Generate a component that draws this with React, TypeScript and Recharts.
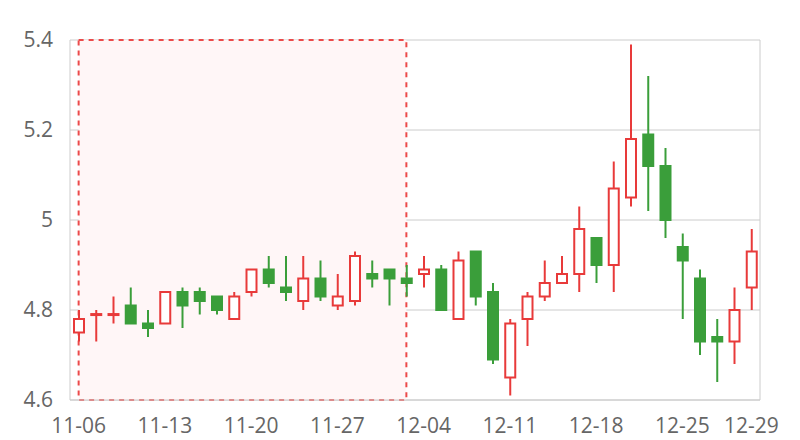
import React from 'react';
import { ComposedChart, Bar, XAxis, YAxis, CartesianGrid, ReferenceArea } from 'recharts';

const dates = [
  '11-06', '11-07', '11-08', '11-09', '11-10',
  '11-13', '11-14', '11-15', '11-16', '11-17',
  '11-20', '11-21', '11-22', '11-23', '11-24',
  '11-27', '11-28', '11-29', '11-30', '12-01',
  '12-04', '12-05', '12-06', '12-07', '12-08',
  '12-11', '12-12', '12-13', '12-14', '12-15',
  '12-18', '12-19', '12-20', '12-21', '12-22',
  '12-25', '12-26', '12-27', '12-28', '12-29',
];

const opens = [
  4.75, 4.789, 4.789, 4.81, 4.77,
  4.77, 4.84, 4.84, 4.83, 4.78,
  4.84, 4.89, 4.85, 4.82, 4.87,
  4.81, 4.82, 4.88, 4.89, 4.87,
  4.88, 4.89, 4.78, 4.93, 4.84,
  4.65, 4.78, 4.83, 4.86, 4.88,
  4.96, 4.90, 5.05, 5.19, 5.12,
  4.94, 4.87, 4.74, 4.73, 4.85,
];

const closes = [
  4.78, 4.791, 4.791, 4.77, 4.76,
  4.84, 4.81, 4.82, 4.80, 4.83,
  4.89, 4.86, 4.84, 4.87, 4.83,
  4.83, 4.92, 4.87, 4.87, 4.86,
  4.89, 4.80, 4.91, 4.83, 4.69,
  4.77, 4.83, 4.86, 4.88, 4.98,
  4.90, 5.07, 5.18, 5.12, 5.00,
  4.91, 4.73, 4.73, 4.80, 4.93,
];

const highs = [
  4.80, 4.80, 4.83, 4.85, 4.80,
  4.84, 4.85, 4.85, 4.83, 4.84,
  4.89, 4.92, 4.92, 4.92, 4.91,
  4.88, 4.93, 4.91, 4.89, 4.90,
  4.92, 4.90, 4.93, 4.93, 4.86,
  4.78, 4.84, 4.91, 4.92, 5.03,
  4.96, 5.13, 5.39, 5.32, 5.16,
  4.97, 4.89, 4.78, 4.85, 4.98,
];

const lows = [
  4.73, 4.73, 4.77, 4.77, 4.74,
  4.77, 4.76, 4.79, 4.79, 4.78,
  4.83, 4.85, 4.82, 4.80, 4.82,
  4.80, 4.81, 4.85, 4.81, 4.83,
  4.85, 4.80, 4.78, 4.81, 4.68,
  4.61, 4.72, 4.82, 4.86, 4.84,
  4.86, 4.84, 5.03, 5.02, 4.96,
  4.78, 4.70, 4.64, 4.68, 4.80,
];

const xTickLabels = ['11-06', '11-13', '11-20', '11-27', '12-04', '12-11', '12-18', '12-25', '12-29'];
const yTicks = [4.6, 4.8, 5, 5.2, 5.4];
const yDomain = [4.6, 5.4];
const areaStart = '11-06';
const areaEnd = '12-01';

const RED = '#e83a3a';
const GREEN = '#3a9e3a';
const FONT = '"Open Sans", "Noto Sans", sans-serif';

const data = dates.map((d, i) => ({
  idx: i,
  date: d,
  open: opens[i],
  close: closes[i],
  high: highs[i],
  low: lows[i],
  range: [lows[i], highs[i]],
}));

const xTicks = xTickLabels.map((t) => dates.indexOf(t));

const Candle = (props: any) => {
  const { x, y, width, height, payload } = props;
  if (!payload) return null;
  const { open, close, high, low } = payload;
  const up = close >= open;
  const color = up ? RED : GREEN;
  const cx = x + width / 2;
  const ppu = high - low > 0 ? height / (high - low) : 0;
  const yOf = (v: number) => y + (high - v) * ppu;
  const top = yOf(Math.max(open, close));
  const bottom = yOf(Math.min(open, close));
  const bh = Math.max(bottom - top, 0);
  const bw = 12;
  return (
    <g>
      {top - y > 0.5 && <line x1={cx} x2={cx} y1={y} y2={top} stroke={color} strokeWidth={2} />}
      {y + height - bottom > 0.5 && (
        <line x1={cx} x2={cx} y1={bottom} y2={y + height} stroke={color} strokeWidth={2} />
      )}
      {up ? (
        <rect x={cx - bw / 2 + 1} y={top} width={bw - 2} height={Math.max(bh, 1)} fill="#ffffff" stroke={color} strokeWidth={2} />
      ) : (
        <rect x={cx - bw / 2} y={top - 1} width={bw} height={Math.max(bh + 2, 3)} fill={color} />
      )}
    </g>
  );
};

export default function App() {
  return (
    <div style={{ position: 'absolute', left: 0, top: 0, width: 800, height: 440, background: '#fff' }}>
      <ComposedChart width={800} height={440} data={data} margin={{ top: 40, right: 0, bottom: 0, left: 0 }}>
        <CartesianGrid vertical={false} stroke="#cccccc" yAxisId="l" />
        <ReferenceArea
          yAxisId="l"
          x1={dates.indexOf(areaStart)}
          x2={dates.indexOf(areaEnd)}
          y1={yDomain[0]}
          y2={yDomain[1]}
          fill="#fff6f7"
          fillOpacity={1}
          stroke="#ec4a4a"
          strokeWidth={2}
          strokeDasharray="5 5"
          ifOverflow="extendDomain"
        />
        <XAxis
          dataKey="idx"
          type="number"
          domain={[-0.5, dates.length - 0.5]}
          ticks={xTicks}
          interval={0}
          tickFormatter={(v: number) => dates[v]}
          axisLine={{ stroke: '#cccccc' }}
          tickLine={false}
          tickMargin={12}
          height={40}
          tick={{ fill: '#666666', fontSize: 21, fontFamily: FONT }}
          allowDataOverflow
        />
        <YAxis
          yAxisId="l"
          domain={yDomain}
          ticks={yTicks}
          interval={0}
          width={70}
          axisLine={{ stroke: '#cccccc' }}
          tickLine={false}
          tickMargin={11}
          tick={{ fill: '#666666', fontSize: 21, fontFamily: FONT }}
          allowDataOverflow
        />
        <YAxis
          yAxisId="r"
          orientation="right"
          domain={yDomain}
          ticks={yTicks}
          width={40}
          axisLine={{ stroke: '#cccccc' }}
          tickLine={false}
          tick={false}
        />
        <Bar yAxisId="l" dataKey="range" barSize={12} shape={Candle} isAnimationActive={false} />
      </ComposedChart>
    </div>
  );
}
